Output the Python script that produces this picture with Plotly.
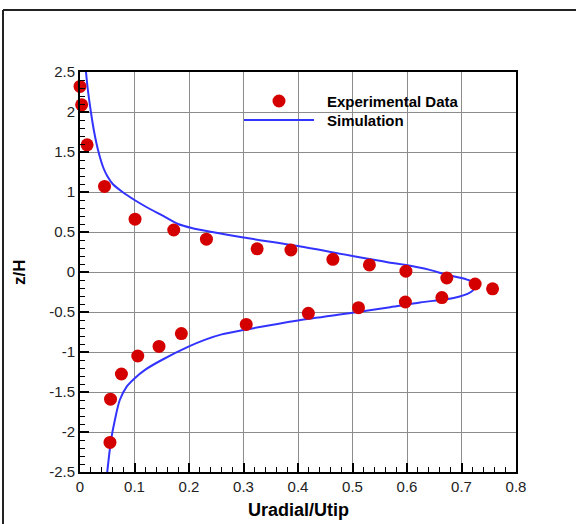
import plotly.graph_objects as go

# Experimental data
exp_x = [0.000, 0.003, 0.013, 0.045, 0.101, 0.172, 0.232, 0.325, 0.387, 0.464, 0.531,
         0.598, 0.673, 0.725, 0.757, 0.664, 0.597, 0.511, 0.419, 0.305, 0.186, 0.145,
         0.106, 0.076, 0.056, 0.055]
exp_y = [2.32, 2.09, 1.59, 1.07, 0.66, 0.525, 0.41, 0.29, 0.275, 0.158, 0.088,
         0.01, -0.075, -0.15, -0.21, -0.32, -0.375, -0.446, -0.517, -0.655, -0.77, -0.93,
         -1.05, -1.275, -1.59, -2.13]

# Simulation curve
sim_x = [0.011, 0.014, 0.020, 0.026, 0.034, 0.043, 0.050, 0.060, 0.078, 0.100, 0.125,
         0.150, 0.180, 0.205, 0.245, 0.300, 0.400, 0.500, 0.550, 0.569, 0.598, 0.640,
         0.673, 0.700, 0.716, 0.724, 0.725, 0.721, 0.712, 0.695, 0.673, 0.624, 0.569, 0.500,
         0.400, 0.300, 0.260, 0.230, 0.200, 0.150, 0.120, 0.100, 0.086, 0.073, 0.064, 0.057, 0.050]
sim_y = [2.50, 2.30, 2.00, 1.75, 1.50, 1.30, 1.20, 1.10, 1.00, 0.90, 0.80,
         0.71, 0.60, 0.55, 0.496, 0.43, 0.325, 0.20, 0.14, 0.117, 0.087, 0.03,
         -0.035, -0.075, -0.11, -0.15, -0.19, -0.23, -0.27, -0.31, -0.34, -0.38, -0.44, -0.51,
         -0.605, -0.725, -0.78, -0.845, -0.93, -1.10, -1.22, -1.33, -1.43, -1.60, -1.85, -2.10, -2.50]

x_ticks = [0, 0.1, 0.2, 0.3, 0.4, 0.5, 0.6, 0.7, 0.8]
x_labels = ["0", "0.1", "0.2", "0.3", "0.4", "0.5", "0.6", "0.7", "0.8"]
y_ticks = [-2.5, -2, -1.5, -1, -0.5, 0, 0.5, 1, 1.5, 2, 2.5]
y_labels = ["-2.5", "-2", "-1.5", "-1", "-0.5", "0", "0.5", "1", "1.5", "2", "2.5"]

FONT = "Liberation Sans, Arial, sans-serif"

fig = go.Figure()
fig.add_trace(go.Scatter(x=sim_x, y=sim_y, mode="lines", name="Simulation",
                         line=dict(color="#3333ff", width=2, shape="spline", smoothing=0.8),
                         showlegend=False))
fig.add_trace(go.Scatter(x=exp_x, y=exp_y, mode="markers", name="Experimental Data",
                         marker=dict(color="#d40000", size=13, line=dict(width=0)),
                         showlegend=False, cliponaxis=False))

axis_common = dict(showline=True, linecolor="black", linewidth=2, mirror=True,
                   ticks="inside", ticklen=9, tickwidth=2, tickcolor="black",
                   showgrid=True, gridcolor="#8c8c8c", gridwidth=1, zeroline=False,
                   tickfont=dict(family=FONT, size=15, color="#222"))

fig.update_xaxes(range=[0, 0.8], tickvals=x_ticks, ticktext=x_labels,
                 minor=dict(dtick=0.02, ticks="inside", ticklen=5, tickwidth=1,
                            tickcolor="black", showgrid=False),
                 **axis_common)
fig.update_yaxes(range=[-2.5, 2.5], tickvals=y_ticks, ticktext=y_labels,
                 minor=dict(dtick=0.1, ticks="inside", ticklen=5, tickwidth=1,
                            tickcolor="black", showgrid=False),
                 **axis_common)

L, T, W, H = 80, 72, 436, 400
def px(x):
    return (x - L) / W
def py(y):
    return (T + H - y) / H

shapes = [
    # outer frame (top and left)
    dict(type="line", xref="paper", yref="paper", x0=px(3), x1=px(600), y0=py(10), y1=py(10),
         line=dict(color="#222", width=2)),
    dict(type="line", xref="paper", yref="paper", x0=px(3), x1=px(3), y0=py(10), y1=py(560),
         line=dict(color="#222", width=2)),
    # legend symbols
    dict(type="circle", xref="paper", yref="paper", xsizemode="pixel", ysizemode="pixel",
         xanchor=px(279), yanchor=py(101), x0=-6.5, x1=6.5, y0=-6.5, y1=6.5,
         fillcolor="#d40000", line=dict(width=0)),
    dict(type="line", xref="paper", yref="paper", x0=px(244), x1=px(314), y0=py(120), y1=py(120),
         line=dict(color="#3333ff", width=2)),
]

annotations = [
    dict(text="<b>Experimental Data</b>", xref="paper", yref="paper", x=px(325), y=py(101),
         xanchor="left", yanchor="middle", showarrow=False,
         font=dict(family=FONT, size=15, color="black")),
    dict(text="<b>Simulation</b>", xref="paper", yref="paper", x=px(325), y=py(120),
         xanchor="left", yanchor="middle", showarrow=False,
         font=dict(family=FONT, size=15, color="black")),
    dict(text="<b>Uradial/Utip</b>", xref="paper", yref="paper", x=0.5, y=py(510),
         xanchor="center", yanchor="middle", showarrow=False,
         font=dict(family=FONT, size=18, color="black")),
    dict(text="<b>z/H</b>", xref="paper", yref="paper", x=px(19), y=0.5, textangle=-90,
         xanchor="center", yanchor="middle", showarrow=False,
         font=dict(family=FONT, size=17, color="black")),
]

fig.update_layout(width=576, height=524, margin=dict(l=L, r=576 - L - W, t=T, b=524 - T - H),
                  paper_bgcolor="white", plot_bgcolor="white",
                  shapes=shapes, annotations=annotations, showlegend=False)

fig.write_html("out.html", config={"displayModeBar": False},
               post_script="document.body.style.margin='0';document.body.style.overflow='hidden';")
